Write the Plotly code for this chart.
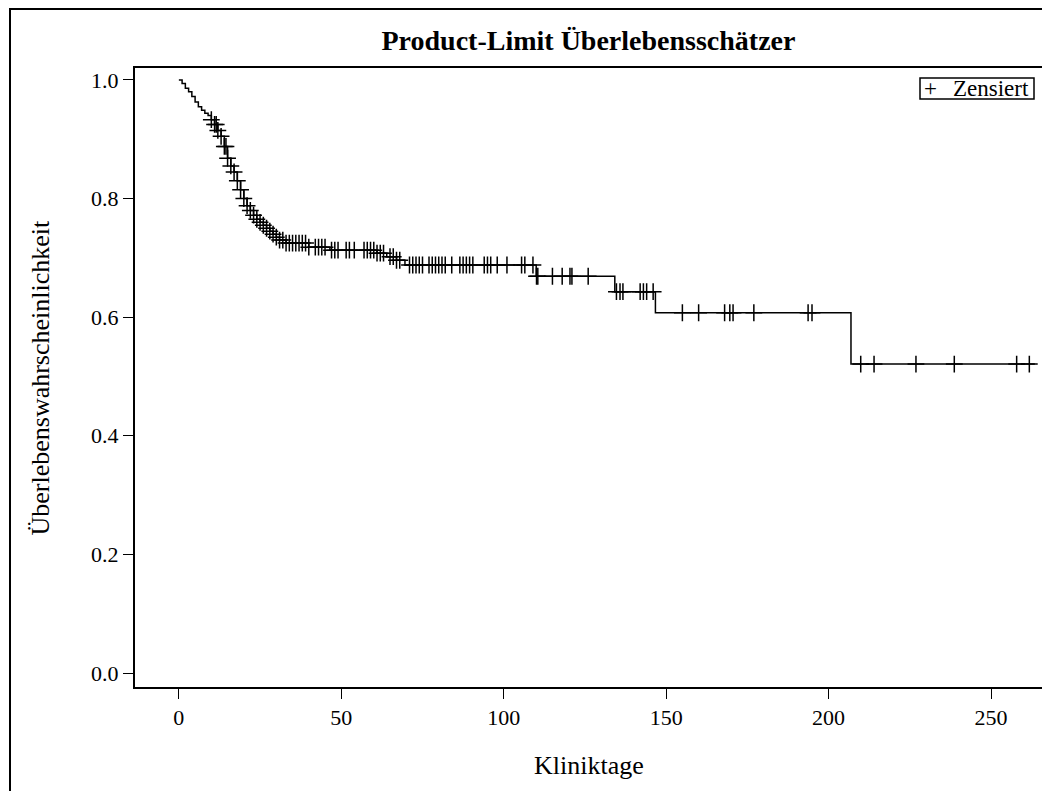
import numpy as np
import plotly.graph_objects as go

# Kaplan-Meier step function (time of step, survival after step)
step_times = [0, 1, 2, 3, 4, 5, 6, 7, 8, 9, 10, 11, 12, 13, 14, 15, 16, 17, 18, 19,
              20, 21, 22, 23, 24, 25, 26, 27, 28, 29, 30, 31, 33, 40, 46.5, 61, 64, 67,
              69.6, 110, 134.2, 146.7, 206.9]
step_surv = [1.0, 0.994, 0.986, 0.980, 0.972, 0.963, 0.955, 0.949, 0.944, 0.940,
             0.933, 0.925, 0.915, 0.905, 0.888, 0.868, 0.855, 0.845, 0.830, 0.815,
             0.800, 0.788, 0.780, 0.772, 0.765, 0.760, 0.755, 0.750, 0.745, 0.740,
             0.735, 0.730, 0.725, 0.718, 0.713, 0.708, 0.702, 0.696, 0.688, 0.669,
             0.643, 0.6075, 0.521]
end_time = 263.5

# Censored observations
censor_times = [10, 11, 11.5, 12, 13, 14, 14.5, 15, 16, 17, 18, 19, 20, 21, 22, 23, 24,
                25, 26, 27, 28, 29, 30, 31, 32, 33, 34, 35, 36, 37, 38, 39, 40, 42, 43,
                44, 45, 47, 48, 49, 51.5, 52.5, 54, 57, 58, 59, 60, 61, 62, 63, 65, 66,
                67, 68, 71, 72, 73, 74, 75, 77, 78, 79, 80, 81, 82, 84, 86.5, 87.5,
                88.5, 89.5, 90.5, 94, 95, 96, 98, 101, 105.5, 106.5, 109, 110.1, 110.5,
                115, 118, 120.4, 121, 126, 134.7, 135.8, 136.7, 142, 143, 144, 146, 155,
                160, 168, 169.6, 170.6, 177, 193.7, 194.9, 209.9, 214, 226.9, 238.7,
                257.9, 261.8]

x_ticks = [0, 50, 100, 150, 200, 250]
y_ticks = [0.0, 0.2, 0.4, 0.6, 0.8, 1.0]
y_ticktext = ["0.0", "0.2", "0.4", "0.6", "0.8", "1.0"]

title_text = "Product-Limit Überlebensschätzer"
x_title = "Kliniktage"
y_title = "Überlebenswahrscheinlichkeit"
legend_label = "Zensiert"

line_x = list(step_times) + [end_time]
line_y = list(step_surv) + [step_surv[-1]]
st = np.array(step_times)
censor_surv = [step_surv[int(np.searchsorted(st, t, side="right")) - 1] for t in censor_times]

FONT = "Liberation Serif, Times New Roman, serif"

fig = go.Figure()
fig.add_trace(go.Scatter(x=line_x, y=line_y, mode="lines", line=dict(color="black", width=1.5, shape="hv"),
                         showlegend=False, hoverinfo="skip"))
fig.add_trace(go.Scatter(x=censor_times, y=censor_surv, mode="markers", name=legend_label,
                         showlegend=False,
                         marker=dict(symbol="cross-thin", size=12, color="black",
                                     line=dict(color="black", width=1.5))))

# page is offset by the 8px body margin
W, H = 1050, 791
L, T = 127, 60
PR, PB = 1034, 679          # plot right / bottom in figure px
R, B = W - PR, H - PB
pw, ph = PR - L, PB - T


def px(xp):
    return (xp - L) / pw


def py(yp):
    return (PB - yp) / ph


fig.update_layout(
    width=W, height=H,
    margin=dict(l=L, r=R, t=T, b=B, autoexpand=False),
    paper_bgcolor="white", plot_bgcolor="white",
    font=dict(family=FONT, color="black", size=22),
    showlegend=False,
    title=dict(text="<b>" + title_text + "</b>", x=0.5, xref="paper", y=1 - 32 / H, yref="container",
               yanchor="middle", xanchor="center", font=dict(size=28, family=FONT, color="black")),
    xaxis=dict(range=[-13.5, 265.7], tickvals=x_ticks, ticks="outside", ticklen=10, tickwidth=1,
               tickcolor="black", showline=True, mirror=True, linecolor="black", linewidth=2,
               showgrid=False, zeroline=False, tickfont=dict(size=22, family=FONT)),
    yaxis=dict(range=[-0.0236, 1.0202], tickvals=y_ticks, ticktext=y_ticktext, ticks="outside",
               ticklen=10, tickwidth=1, tickcolor="black", showline=True, mirror=True,
               linecolor="black", linewidth=2, showgrid=False, zeroline=False,
               tickfont=dict(size=22, family=FONT)),
    annotations=[
        dict(text=x_title, x=0.5, y=py(757), xref="paper", yref="paper", showarrow=False,
             xanchor="center", yanchor="middle", font=dict(size=26, family=FONT)),
        dict(text=y_title, x=px(32), y=0.5, xref="paper", yref="paper", showarrow=False,
             textangle=-90, xanchor="center", yanchor="middle", font=dict(size=26, family=FONT)),
        # legend
        dict(text="+", x=px(922), y=py(80.5), xref="paper", yref="paper", showarrow=False,
             xanchor="center", yanchor="middle", font=dict(size=23, family=FONT)),
        dict(text=legend_label, x=px(943), y=py(80.5), xref="paper", yref="paper", showarrow=False,
             xanchor="left", yanchor="middle", font=dict(size=23, family=FONT)),
    ],
    shapes=[
        dict(type="rect", xref="paper", yref="paper", x0=px(2), x1=1.2, y0=-0.3,
             y1=py(1), line=dict(color="black", width=2), layer="below"),
        dict(type="rect", xref="paper", yref="paper", x0=px(912), x1=px(1026), y0=py(91),
             y1=py(70), line=dict(color="black", width=1.5), fillcolor="white", layer="above"),
    ],
)

fig.write_html("out.html")
